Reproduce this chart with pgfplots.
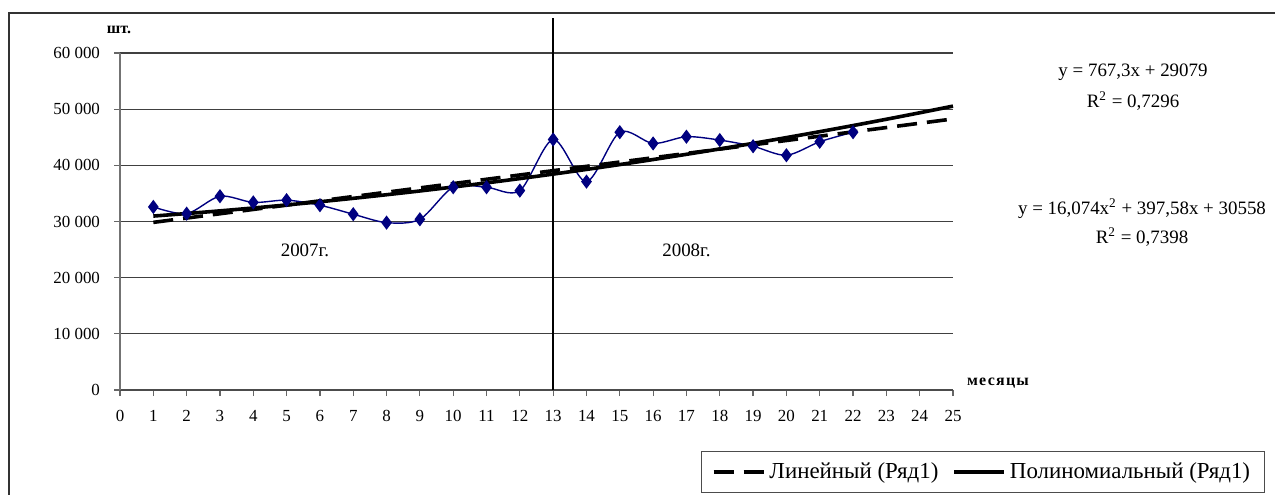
\documentclass[border=0pt]{standalone}
\usepackage{fontspec}
\setmainfont{Liberation Serif}
\usepackage{pgfplots}
\pgfplotsset{compat=1.18}
\definecolor{navy}{RGB}{0,0,128}
\begin{document}
\begin{tikzpicture}
\useasboundingbox (0,0) rectangle (637.5bp,-247.5bp);
\draw[line width=1bp, black!80] (4.5bp,-260bp) -- (4.5bp,-6.5bp) -- (650bp,-6.5bp);
\begin{axis}[
  at={(60bp,-195bp)}, anchor=south west,
  scale only axis, width=416.5bp, height=168.5bp,
  xmin=0, xmax=25, ymin=0, ymax=60000,
  scaled y ticks=false,
  axis x line*=bottom, axis y line*=left,
  x axis line style={black!70, line width=0.6bp},
  y axis line style={black!55, line width=0.6bp},
  xtick={0,...,25}, ytick={0,10000,20000,30000,40000,50000,60000},
  yticklabels={0,10 000,20 000,30 000,40 000,50 000,60 000},
  /pgf/number format/assume math mode=true,
  tick align=outside, major tick length=3bp,
  tick style={black!60, line width=0.6bp},
  ymajorgrids, grid style={black!75, line width=0.6bp},
  ticklabel style={font=\fontsize{8.5}{10}\selectfont},
  xticklabel style={yshift=-3.5bp},
  yticklabel style={xshift=-3.5bp},
  clip=false,
  legend columns=2,
  legend style={at={(1.036,-0.243)}, anchor=center, draw=black!70, line width=0.6bp,
    font=\fontsize{11.5}{13}\selectfont, inner xsep=5bp, inner ysep=3.5bp,
    /tikz/every even column/.append style={column sep=5bp}},
  legend image code/.code={\draw[#1] (0bp,0bp) -- (25bp,0bp);},
]
\addplot[navy, line width=0.7bp, smooth, tension=0.5, mark=diamond*, mark size=3bp,
  mark options={solid, fill=navy}, forget plot] coordinates {
  (1,32600) (2,31400) (3,34500) (4,33400) (5,33800) (6,32900) (7,31300) (8,29800)
  (9,30400) (10,36100) (11,36100) (12,35500) (13,44600) (14,37100) (15,45900)
  (16,43900) (17,45100) (18,44500) (19,43400) (20,41800) (21,44200) (22,45900)
};
\addplot[black, line width=1.8bp, dash pattern=on 10bp off 5bp] coordinates {
  (1,29846.3) (25,48261.5)
};
\addlegendentry{Линейный (Ряд1)}
\addplot[black, line width=1.8bp, smooth] coordinates {
  (1,30971.65) (2,31417.46) (3,31895.41) (4,32405.50) (5,32947.75) (6,33522.14)
  (7,34128.69) (8,34767.38) (9,35438.21) (10,36141.2) (11,36876.33) (12,37643.62)
  (13,38443.05) (14,39274.62) (15,40138.35) (16,41034.22) (17,41962.25) (18,42922.42)
  (19,43914.73) (20,44939.2) (21,45995.81) (22,47084.58) (23,48205.49) (24,49358.54)
  (25,50543.75)
};
\addlegendentry{Полиномиальный (Ряд1)}
\draw[line width=1bp] (axis cs:13,0) -- (axis cs:13,66200);
\node[font=\fontsize{9.5}{11}\selectfont] at (axis cs:5.55,24900) {2007г.};
\node[font=\fontsize{9.5}{11}\selectfont] at (axis cs:17,24900) {2008г.};
\end{axis}
\node[font=\bfseries\fontsize{8}{10}\selectfont] at (59.5bp,-15bp) {шт.};
\node[font=\bfseries\fontsize{8}{10}\selectfont\addfontfeatures{LetterSpace=8}] at (499bp,-191.5bp) {месяцы};
\node[align=center, font=\fontsize{9.5}{15.5}\selectfont] at (566.5bp,-43.75bp)
  {y = 767,3x + 29079\\R\textsuperscript{2} = 0,7296};
\node[align=center, font=\fontsize{9.5}{14.5}\selectfont] at (571bp,-111.25bp)
  {y = 16,074x\textsuperscript{2} + 397,58x + 30558\\R\textsuperscript{2} = 0,7398};
\end{tikzpicture}
\end{document}
